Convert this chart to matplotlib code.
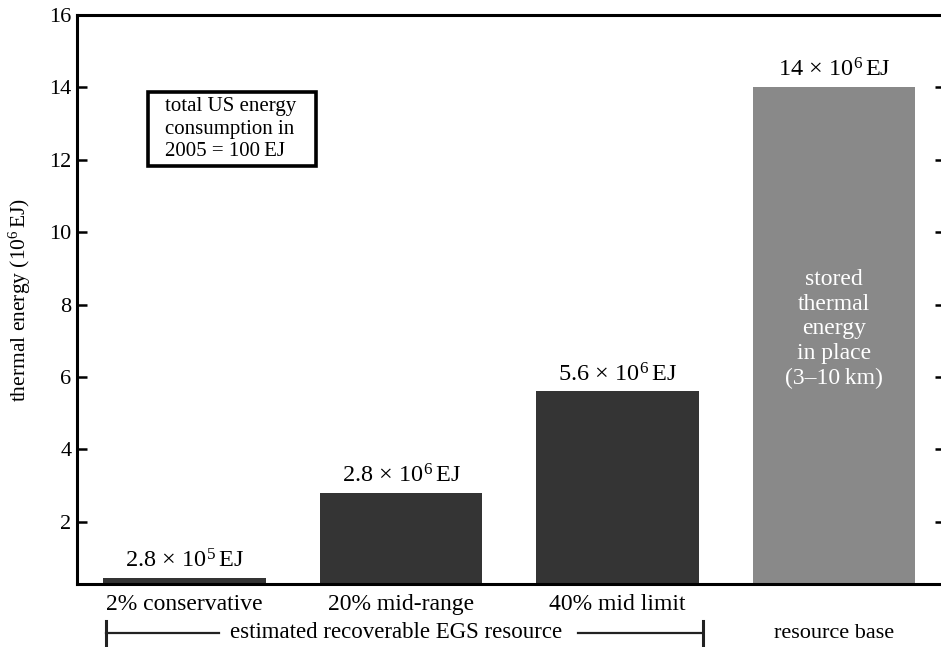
import matplotlib
matplotlib.use("Agg")
import matplotlib.pyplot as plt
from matplotlib.patches import Rectangle
from matplotlib.transforms import blended_transform_factory

plt.rcParams['font.family'] = ['Liberation Serif', 'DejaVu Serif']
plt.rcParams['mathtext.fontset'] = 'custom'
plt.rcParams['mathtext.rm'] = 'Liberation Serif'
plt.rcParams['mathtext.it'] = 'Liberation Serif:italic'

categories = ['2% conservative', '20% mid-range', '40% mid limit', '']
values = [0.44, 2.8, 5.6, 14.0]
value_labels = [r'$2.8\,\times\,10^{5}\,$EJ', r'$2.8\,\times\,10^{6}\,$EJ',
                r'$5.6\,\times\,10^{6}\,$EJ', r'$14\,\times\,10^{6}\,$EJ']
colors = ['#343434', '#343434', '#343434', '#898989']
yticks = [2, 4, 6, 8, 10, 12, 14, 16]

fig = plt.figure(figsize=(9.41, 6.47), dpi=100)
ax = fig.add_axes([77/941, 1-584/647, (945-77)/941, (584-15)/647])

x = list(range(len(values)))
ax.bar(x, values, width=0.75, color=colors, zorder=2)
ax.set_xlim(-0.497, 3.513)
ax.set_ylim(0.28, 16)

for s in ['left', 'bottom', 'top']:
    ax.spines[s].set_linewidth(2.2)
ax.spines['right'].set_visible(False)

ax.set_yticks(yticks)
ax.set_yticklabels([str(t) for t in yticks], fontsize=16)
ax.tick_params(axis='y', direction='in', length=7, width=1.8, right=True, pad=4)
ax.set_xticks(x)
ax.set_xticklabels(categories, fontsize=17)
ax.tick_params(axis='x', length=0, pad=7)

ax.set_ylabel(r'thermal energy ($10^{6}\,$EJ)', fontsize=15.5, labelpad=12)

for xi, v, lab in zip(x, values, value_labels):
    ax.text(xi, v + 0.15, lab, ha='center', va='bottom', fontsize=17.5)

ax.text(3, 7.33, 'stored\nthermal\nenergy\nin place\n(3\u201310\u2009km)',
        ha='center', va='center', color='white', fontsize=17, linespacing=1.23,
        family=['Liberation Serif', 'DejaVu Serif'])

ax.add_patch(Rectangle((-0.169, 11.82), 0.776, 2.05, facecolor='white',
                       edgecolor='black', linewidth=2.6, zorder=3))
ax.text(-0.09, 12.85, 'total US energy\nconsumption in\n2005 = 100\u2009EJ',
        ha='left', va='center', fontsize=15, linespacing=1.22, zorder=4,
        family=['Liberation Serif', 'DejaVu Serif'])

trans = blended_transform_factory(ax.transData, ax.transAxes)
ybr = -(633-584)/(584-15)
ax.text(0.975, ybr, 'estimated recoverable EGS resource', transform=trans,
        ha='center', va='center', fontsize=16.5)
ax.text(3, ybr, 'resource base', transform=trans, ha='center', va='center', fontsize=16)
lx0, lx1 = -0.363, 2.395
ax.plot([lx0, 0.159], [ybr, ybr], transform=trans, color='#222', lw=1.6, clip_on=False)
ax.plot([1.817, lx1], [ybr, ybr], transform=trans, color='#222', lw=1.6, clip_on=False)
h = 12/(584-15)
for xe in (lx0, lx1):
    ax.plot([xe, xe], [ybr-h, ybr+h], transform=trans, color='#222', lw=2.2, clip_on=False)

fig.savefig('out.png', dpi=100)
